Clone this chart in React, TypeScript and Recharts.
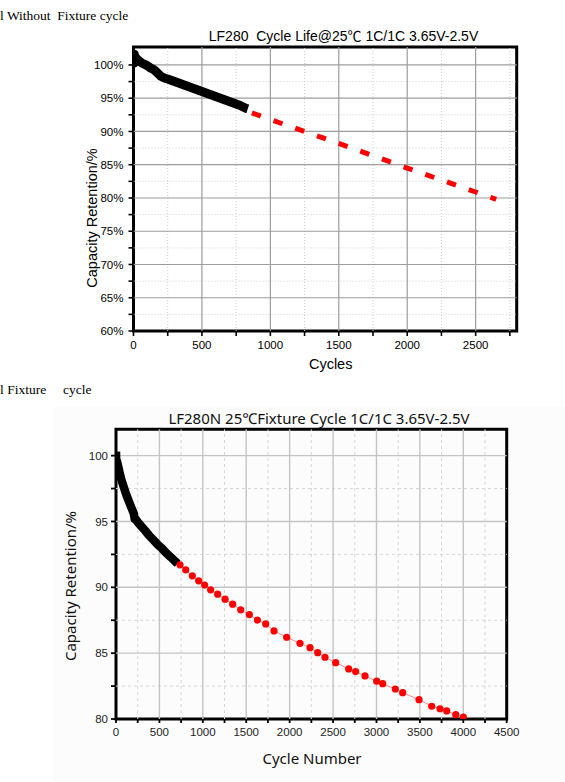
import React from "react";
import { LineChart, Line, XAxis, YAxis, ReferenceLine, ReferenceArea } from "recharts";

// LF280 without fixture — measured cycles (black) and projection (red dashes)
const c1Cycles = [0, 3, 6, 10, 20, 40, 60, 80, 100, 120, 140, 160, 180, 200, 230, 260, 300, 340, 380, 420, 460, 500, 540, 580, 620, 660, 700, 740, 780, 820, 835];
const c1Retention = [101.9, 100.3, 101.6, 101.2, 101.0, 100.6, 100.3, 100.1, 99.9, 99.6, 99.4, 99.1, 98.7, 98.3, 98.0, 97.8, 97.5, 97.2, 96.9, 96.6, 96.3, 96.0, 95.7, 95.4, 95.1, 94.8, 94.5, 94.2, 93.9, 93.5, 93.4];
const c1ProjCycles = [865, 1000, 1500, 2000, 2500, 2650];
const c1ProjRetention = [92.8, 91.8, 88.2, 84.5, 80.9, 79.8];

const c1XTicks = [0, 250, 500, 750, 1000, 1250, 1500, 1750, 2000, 2250, 2500, 2750];
const c1YTicks = [60, 62.5, 65, 67.5, 70, 72.5, 75, 77.5, 80, 82.5, 85, 87.5, 90, 92.5, 95, 97.5, 100];
const c1XMajor = [500, 1000, 1500, 2000, 2500];
const c1XMinor = [250, 750, 1250, 1750, 2250, 2750];
const c1YMajor = [65, 70, 75, 80, 85, 90, 95, 100];
const c1YMinor = [62.5, 67.5, 72.5, 77.5, 82.5, 87.5, 92.5, 97.5];

// LF280N with fixture — measured cycles (black) and sampled points (red)
const c2Cycles = [0, 4, 10, 25, 45, 65, 90, 120, 150, 180, 205, 215, 225, 250, 290, 330, 380, 430, 480, 530, 580, 630, 680, 710];
const c2Retention = [100.3, 98.6, 99.6, 99.2, 98.6, 98.1, 97.6, 97.0, 96.5, 96.0, 95.6, 95.2, 95.2, 94.95, 94.65, 94.35, 93.95, 93.6, 93.25, 92.95, 92.6, 92.3, 91.98, 91.8];
const c2DotCycles = [737, 803, 879, 952, 1021, 1090, 1171, 1256, 1344, 1436, 1536, 1628, 1724, 1820, 1966, 2119, 2235, 2323, 2407, 2530, 2680, 2760, 2868, 3003, 3072, 3217, 3302, 3490, 3636, 3732, 3809, 3913, 4001];
const c2DotRetention = [91.71, 91.33, 90.87, 90.49, 90.17, 89.81, 89.48, 89.1, 88.72, 88.29, 87.93, 87.51, 87.22, 86.69, 86.21, 85.75, 85.42, 85.04, 84.69, 84.28, 83.8, 83.6, 83.27, 82.87, 82.68, 82.28, 82.0, 81.47, 80.97, 80.78, 80.61, 80.33, 80.15];

const c2XTicks = [0, 250, 500, 750, 1000, 1250, 1500, 1750, 2000, 2250, 2500, 2750, 3000, 3250, 3500, 3750, 4000, 4250, 4500];
const c2YTicks = [80, 82.5, 85, 87.5, 90, 92.5, 95, 97.5, 100];
const c2XMajor = [500, 1000, 1500, 2000, 2500, 3000, 3500, 4000];
const c2XMinor = [250, 750, 1250, 1750, 2250, 2750, 3250, 3750, 4250];
const c2YMajor = [85, 90, 95, 100];
const c2YMinor = [82.5, 87.5, 92.5, 97.5];

const zip = (xs: number[], ys: number[]) => xs.map((x, i) => ({ x, y: ys[i] }));

const arial = "'Liberation Sans', Arial, 'Noto Sans CJK SC', sans-serif";
const yahei = "'Noto Sans', 'Noto Sans CJK SC', sans-serif";
const serif = "'Liberation Serif', 'Times New Roman', serif";

const abs = (left: number, top: number, extra: React.CSSProperties = {}): React.CSSProperties => ({
  position: "absolute",
  left,
  top,
  whiteSpace: "nowrap",
  ...extra,
});

function WithoutFixture() {
  const X0: [number, number] = [0, 2800];
  const Y0: [number, number] = [60, 102.7];
  return (
    <LineChart width={565} height={380} margin={{ top: 47, right: 48.3, bottom: 19, left: 0 }}>
      <XAxis
        dataKey="x"
        type="number"
        domain={X0}
        ticks={c1XTicks}
        allowDataOverflow
        height={30}
        axisLine={false}
        tickSize={5}
        tickMargin={5}
        tickLine={{ stroke: "#000", strokeWidth: 1.6 }}
        tick={{ fill: "#000", fontSize: 11.5, fontFamily: arial }}
        tickFormatter={(v: number) => (v % 500 === 0 ? String(v) : "")}
        interval={0}
      />
      <XAxis
        xAxisId="t"
        orientation="top"
        mirror
        height={0}
        type="number"
        domain={X0}
        ticks={c1XTicks}
        allowDataOverflow
        axisLine={false}
        tickSize={4}
        tickLine={{ stroke: "#000", strokeWidth: 1.6 }}
        tickFormatter={() => ""}
        interval={0}
      />
      <YAxis
        type="number"
        domain={Y0}
        ticks={c1YTicks}
        allowDataOverflow
        width={133.5}
        axisLine={false}
        tickSize={5}
        tickMargin={5}
        tickLine={{ stroke: "#000", strokeWidth: 1.6 }}
        tick={{ fill: "#000", fontSize: 11.5, fontFamily: arial }}
        tickFormatter={(v: number) => (v % 5 === 0 ? `${v}%` : "")}
        interval={0}
      />
      <YAxis
        yAxisId="r"
        orientation="right"
        mirror
        width={0}
        type="number"
        domain={Y0}
        ticks={c1YTicks}
        allowDataOverflow
        axisLine={false}
        tickSize={4}
        tickLine={{ stroke: "#000", strokeWidth: 1.6 }}
        tickFormatter={() => ""}
        interval={0}
      />
      {c1XMinor.map((v) => (
        <ReferenceLine key={`xm${v}`} x={v} stroke="#cfcfcf" strokeDasharray="1 2" />
      ))}
      {c1YMinor.map((v) => (
        <ReferenceLine key={`ym${v}`} y={v} stroke="#cfcfcf" strokeDasharray="1 2" />
      ))}
      {c1XMajor.map((v) => (
        <ReferenceLine key={`xM${v}`} x={v} stroke="#9d9d9d" strokeWidth={1.2} />
      ))}
      {c1YMajor.map((v) => (
        <ReferenceLine key={`yM${v}`} y={v} stroke="#9d9d9d" strokeWidth={1.2} />
      ))}
      <Line
        data={zip(c1ProjCycles, c1ProjRetention)}
        dataKey="y"
        type="linear"
        stroke="#ff0000"
        strokeWidth={5}
        strokeDasharray="9.5 13.5"
        dot={false}
        isAnimationActive={false}
      />
      <Line
        data={zip(c1Cycles, c1Retention)}
        dataKey="y"
        type="linear"
        stroke="#000"
        strokeWidth={9}
        strokeLinejoin="round"
        dot={false}
        isAnimationActive={false}
      />
      <ReferenceArea x1={0} x2={2800} y1={60} y2={102.7} fill="none" stroke="#000" strokeWidth={3} />
    </LineChart>
  );
}

function WithFixture() {
  const X0: [number, number] = [0, 4500];
  const Y0: [number, number] = [80, 102];
  return (
    <LineChart width={565} height={402} margin={{ top: 49.3, right: 58.3, bottom: 33, left: 0 }}>
      <XAxis
        dataKey="x"
        type="number"
        domain={X0}
        ticks={c2XTicks}
        allowDataOverflow
        height={30}
        axisLine={false}
        tickSize={4}
        tickMargin={5}
        tickLine={{ stroke: "#000", strokeWidth: 1.8 }}
        tick={{ fill: "#222", fontSize: 11.5, fontFamily: arial }}
        tickFormatter={(v: number) => (v % 500 === 0 ? String(v) : "")}
        interval={0}
      />
      <YAxis
        type="number"
        domain={Y0}
        ticks={c2YTicks}
        allowDataOverflow
        width={116}
        axisLine={false}
        tickSize={5}
        tickMargin={3}
        tickLine={{ stroke: "#000", strokeWidth: 1.8 }}
        tick={{ fill: "#222", fontSize: 11.5, fontFamily: arial }}
        tickFormatter={(v: number) => (v % 5 === 0 ? String(v) : "")}
        interval={0}
      />
      {c2XMinor.map((v) => (
        <ReferenceLine key={`xm${v}`} x={v} stroke="#d6d6d6" strokeDasharray="3 3" />
      ))}
      {c2YMinor.map((v) => (
        <ReferenceLine key={`ym${v}`} y={v} stroke="#d6d6d6" strokeDasharray="3 3" />
      ))}
      {c2XMajor.map((v) => (
        <ReferenceLine key={`xM${v}`} x={v} stroke="#c4c4c4" strokeWidth={1.4} />
      ))}
      {c2YMajor.map((v) => (
        <ReferenceLine key={`yM${v}`} y={v} stroke="#c4c4c4" strokeWidth={1.4} />
      ))}
      <Line
        data={zip(c2DotCycles, c2DotRetention)}
        dataKey="y"
        type="linear"
        stroke="#ff8a8a"
        strokeWidth={1}
        dot={{ r: 3.6, fill: "#ff0000", stroke: "none" }}
        isAnimationActive={false}
      />
      <Line
        data={zip(c2Cycles, c2Retention)}
        dataKey="y"
        type="linear"
        stroke="#000"
        strokeWidth={8.5}
        strokeLinejoin="round"
        dot={false}
        isAnimationActive={false}
      />
      <ReferenceArea x1={0} x2={4500} y1={80} y2={102} fill="none" stroke="#000" strokeWidth={3} />
    </LineChart>
  );
}

export default function App() {
  return (
    <div style={{ position: "absolute", left: 0, top: 0, width: 565, height: 782, background: "#fff", overflow: "hidden" }}>
      <div style={abs(53, 407, { width: 512, height: 375, background: "#fcfcfc" })} />

      <div style={abs(0, 8, { fontFamily: serif, fontSize: 13.5, color: "#000" })}>l Without&nbsp; Fixture cycle</div>
      <div style={abs(0, 382, { fontFamily: serif, fontSize: 13.5, color: "#000" })}>l Fixture&nbsp;&nbsp;&nbsp;&nbsp; cycle</div>

      <div style={abs(0, 0)}>
        <WithoutFixture />
      </div>
      <div style={abs(0, 380)}>
        <WithFixture />
      </div>

      <div style={abs(343.5, 34.5, { transform: "translate(-50%,-50%)", fontFamily: arial, fontSize: 14, color: "#000" })}>
        LF280&nbsp; Cycle Life@25℃ 1C/1C 3.65V-2.5V
      </div>
      <div style={abs(92, 217.6, { transform: "translate(-50%,-50%) rotate(-90deg)", fontFamily: arial, fontSize: 14.5, color: "#000" })}>
        Capacity Retention/%
      </div>
      <div style={abs(330.7, 364, { transform: "translate(-50%,-50%)", fontFamily: arial, fontSize: 14.5, color: "#000" })}>
        Cycles
      </div>

      <div style={abs(319, 418, { transform: "translate(-50%,-50%)", fontFamily: yahei, fontSize: 15, color: "#111" })}>
        LF280N 25℃Fixture Cycle 1C/1C 3.65V-2.5V
      </div>
      <div style={abs(70, 586, { transform: "translate(-50%,-50%) rotate(-90deg)", fontFamily: yahei, fontSize: 15, color: "#111" })}>
        Capacity Retention/%
      </div>
      <div style={abs(312, 758, { transform: "translate(-50%,-50%)", fontFamily: yahei, fontSize: 15, color: "#111" })}>
        Cycle Number
      </div>
    </div>
  );
}
